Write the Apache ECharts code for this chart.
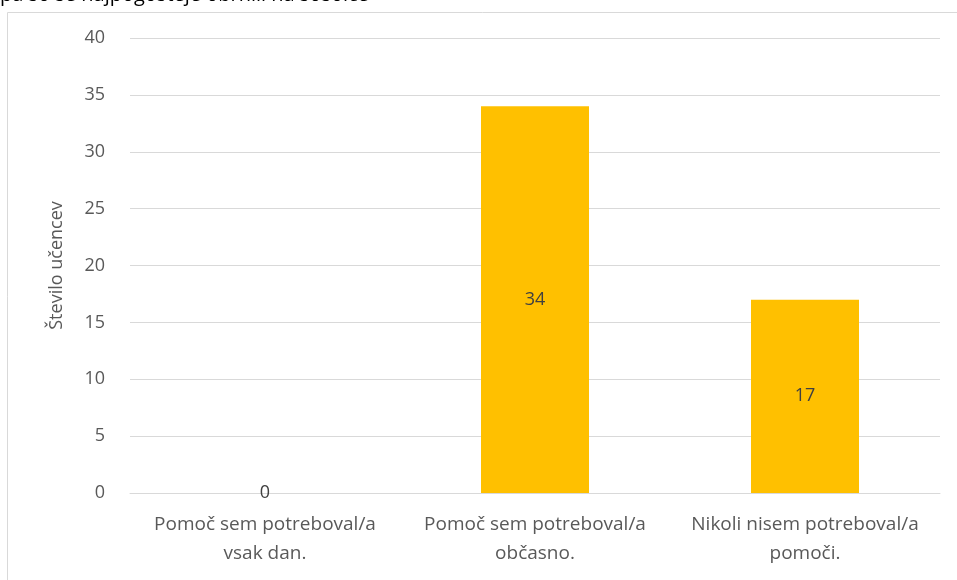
<!DOCTYPE html>
<html>
<head>
<meta charset="utf-8">
<script src="https://cdn.jsdelivr.net/npm/echarts@6/dist/echarts.min.js"></script>
<style>html,body{margin:0;padding:0;background:#fff;}#c{width:957px;height:580px;}</style>
</head>
<body>
<div id="c"></div>
<script>
const categories = ['Pomoč sem potreboval/a\nvsak dan.', 'Pomoč sem potreboval/a\nobčasno.', 'Nikoli nisem potreboval/a\npomoči.'];
const values = [0, 34, 17];
const yTicks = [0, 5, 10, 15, 20, 25, 30, 35, 40];
const axisName = 'Število učencev';
const cutTitle = 'pa so se najpogosteje obrnili na sošolce';

const FONT = 'Open Sans';
const chart = echarts.init(document.getElementById('c'));
chart.setOption({
  animation: false,
  textStyle: { fontFamily: FONT },
  graphic: [
    { type: 'rect', shape: { x: 7.5, y: 12.5, width: 960, height: 580 }, style: { fill: 'none', stroke: '#d9d9d9', lineWidth: 1 }, silent: true },
    { type: 'text', left: 0, top: -15, style: { text: cutTitle, font: '20px "Open Sans"', fill: '#000' }, silent: true }
  ],
  grid: { left: 130, right: 17, top: 38, bottom: 87, containLabel: false },
  xAxis: {
    type: 'category',
    data: categories,
    axisLine: { show: true, lineStyle: { color: '#d9d9d9', width: 1 } },
    axisTick: { show: false },
    axisLabel: { color: '#595959', fontSize: 19, lineHeight: 29, margin: 17, interval: 0 }
  },
  yAxis: {
    type: 'value',
    min: yTicks[0],
    max: yTicks[yTicks.length - 1],
    interval: 5,
    name: axisName,
    nameLocation: 'middle',
    nameGap: 64,
    nameTextStyle: { color: '#595959', fontSize: 18 },
    axisLine: { show: false },
    axisTick: { show: false },
    axisLabel: { color: '#595959', fontSize: 18, margin: 25 },
    splitLine: { lineStyle: { color: '#d9d9d9', width: 1 } }
  },
  series: [{
    type: 'bar',
    data: values,
    barWidth: '40%',
    itemStyle: { color: '#FFC000' },
    label: { show: true, position: 'inside', color: '#404040', fontSize: 18 }
  }]
});
</script>
</body>
</html>
